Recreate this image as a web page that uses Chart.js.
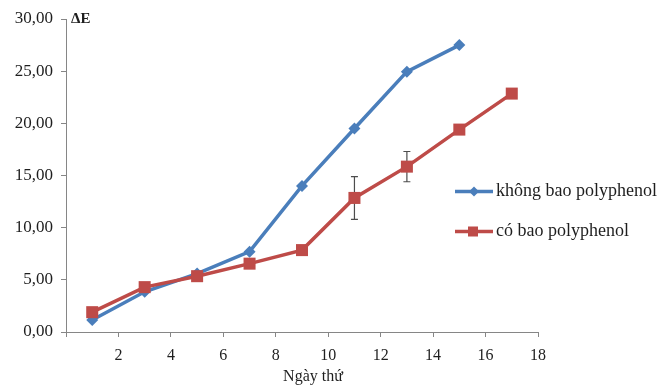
<!DOCTYPE html>
<html>
<head>
<meta charset="utf-8">
<script src="https://cdn.jsdelivr.net/npm/chart.js@4.4.1/dist/chart.umd.min.js"></script>
<style>
  html, body { margin: 0; padding: 0; background: #ffffff; }
  #wrap { width: 665px; height: 388px; position: relative; }
</style>
</head>
<body>
<div id="wrap"><canvas id="c" width="665" height="388"></canvas></div>
<script>
// ---- data ----
const days = [1, 3, 5, 7, 9, 11, 13, 15, 17];
const seriesNames = ['không bao polyphenol', 'có bao polyphenol'];
const khongBao = [1.15, 3.85, 5.6, 7.7, 14.0, 19.5, 24.95, 27.5];
const coBao = [1.9, 4.3, 5.35, 6.55, 7.85, 12.85, 15.85, 19.4, 22.85];
const coBaoErr = [0, 0, 0, 0, 0, 2.05, 1.45, 0, 0];
const yTickValues = [0, 5, 10, 15, 20, 25, 30];
const xTickValues = [2, 4, 6, 8, 10, 12, 14, 16, 18];
const yTitle = 'ΔE';
const xTitle = 'Ngày thứ';

const BLUE = '#4a7ebb';
const RED = '#be4b48';
const AXIS = '#868686';
const TEXT = '#1e1e1e';
const SERIF = '"Liberation Serif", "Times New Roman", serif';

function pts(vals) { return vals.map((v, i) => ({ x: days[i], y: v })); }

const errorBars = {
  id: 'errorBars',
  beforeDatasetsDraw(chart) {
    const ctx = chart.ctx, xs = chart.scales.x, ys = chart.scales.y;
    ctx.save();
    ctx.strokeStyle = '#4d4d4d';
    ctx.lineWidth = 1.2;
    coBaoErr.forEach((e, i) => {
      if (!e) return;
      const px = xs.getPixelForValue(days[i]);
      const top = ys.getPixelForValue(coBao[i] + e);
      const bot = ys.getPixelForValue(coBao[i] - e);
      ctx.beginPath();
      ctx.moveTo(px, top); ctx.lineTo(px, bot);
      ctx.moveTo(px - 3.5, top); ctx.lineTo(px + 3.5, top);
      ctx.moveTo(px - 3.5, bot); ctx.lineTo(px + 3.5, bot);
      ctx.stroke();
    });
    ctx.restore();
  }
};

const extras = {
  id: 'extras',
  afterDraw(chart) {
    const ctx = chart.ctx;
    ctx.save();
    // y title
    ctx.fillStyle = TEXT;
    ctx.font = 'bold 15px ' + SERIF;
    ctx.textBaseline = 'middle';
    ctx.textAlign = 'left';
    ctx.fillText(yTitle, 71, 19);
    // x title
    ctx.font = '16px ' + SERIF;
    ctx.textAlign = 'center';
    ctx.fillText(xTitle, 313, 377);
    // legend
    const rows = [191.5, 231.5];
    chart.data.datasets.forEach((ds, i) => {
      const y = rows[i];
      ctx.strokeStyle = ds.borderColor;
      ctx.lineWidth = 3.5;
      ctx.beginPath();
      ctx.moveTo(455, y); ctx.lineTo(493, y);
      ctx.stroke();
      ctx.fillStyle = ds.borderColor;
      if (ds.pointStyle === 'rect') {
        ctx.fillRect(468, y - 5, 10, 10);
      } else {
        ctx.beginPath();
        ctx.moveTo(474, y - 5); ctx.lineTo(479, y); ctx.lineTo(474, y + 5); ctx.lineTo(469, y);
        ctx.closePath(); ctx.fill();
      }
      ctx.fillStyle = TEXT;
      ctx.font = '18px ' + SERIF;
      ctx.textAlign = 'left';
      ctx.textBaseline = 'middle';
      ctx.fillText(ds.label, 496, y);
    });
    ctx.restore();
  }
};

new Chart(document.getElementById('c'), {
  type: 'line',
  data: {
    datasets: [
      {
        label: seriesNames[0],
        data: pts(khongBao),
        borderColor: BLUE,
        backgroundColor: BLUE,
        borderWidth: 3.5,
        pointStyle: 'rectRot',
        pointRadius: 6,
        pointBorderWidth: 0,
        order: 1
      },
      {
        label: seriesNames[1],
        data: pts(coBao),
        borderColor: RED,
        backgroundColor: RED,
        borderWidth: 3.5,
        pointStyle: 'rect',
        pointRadius: 8.5,
        pointBorderWidth: 0,
        order: 0
      }
    ]
  },
  options: {
    responsive: false,
    animation: false,
    devicePixelRatio: 1,
    layout: { padding: { left: 0, right: 127, top: 19, bottom: 0 } },
    plugins: { legend: { display: false }, tooltip: { enabled: false } },
    scales: {
      x: {
        type: 'linear',
        min: 0, max: 18,
        afterFit(s) { s.height = 56; },
        afterBuildTicks(s) { s.ticks = [0].concat(xTickValues).map(v => ({ value: v })); },
        grid: { display: true, drawOnChartArea: false, drawTicks: true, tickLength: 5, color: AXIS },
        border: { display: true, color: AXIS, width: 1 },
        ticks: {
          padding: 9,
          color: TEXT,
          font: { family: SERIF, size: 16 },
          maxRotation: 0,
          callback: v => (v === 0 ? '' : String(v))
        }
      },
      y: {
        type: 'linear',
        min: 0, max: 30,
        afterFit(s) { s.width = 66; },
        afterBuildTicks(s) { s.ticks = yTickValues.map(v => ({ value: v })); },
        grid: { display: true, drawOnChartArea: false, drawTicks: true, tickLength: 5, color: AXIS },
        border: { display: true, color: AXIS, width: 1 },
        ticks: {
          padding: 8,
          color: TEXT,
          font: { family: SERIF, size: 17 },
          callback: v => v.toFixed(2).replace('.', ',')
        }
      }
    }
  },
  plugins: [errorBars, extras]
});
</script>
</body>
</html>
